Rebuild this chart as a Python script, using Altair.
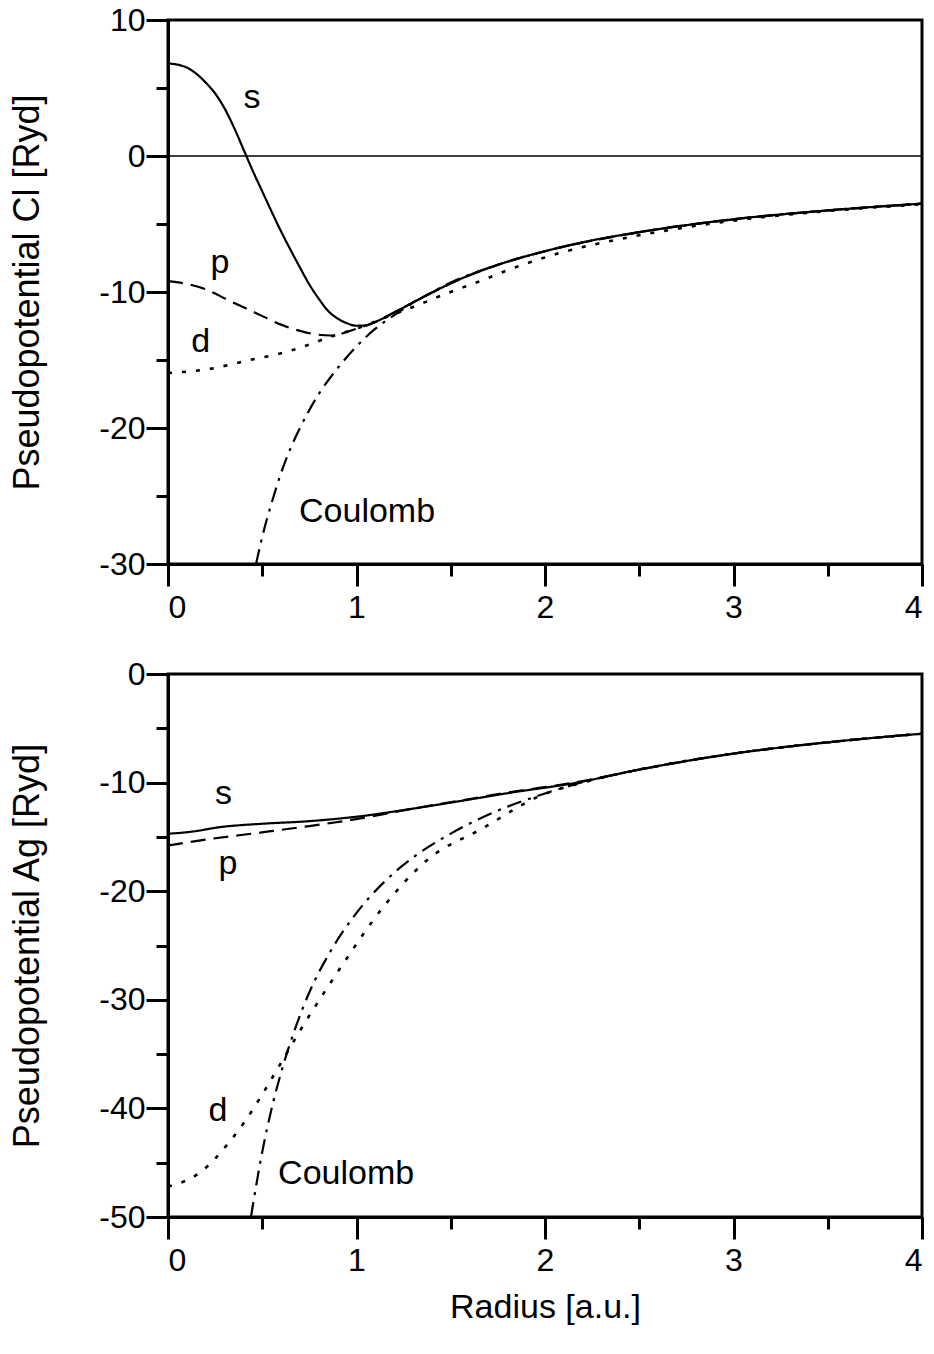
import altair as alt
import pandas as pd

# ---------------- data ----------------
# Cl panel
cl_s_r = [0.0, 0.05, 0.1, 0.15, 0.2, 0.25, 0.3, 0.35, 0.4, 0.45, 0.5, 0.55, 0.6, 0.65, 0.7, 0.75, 0.8, 0.85, 0.9, 0.95, 1.0, 1.05, 1.1, 1.2, 1.35, 1.55, 1.75, 2.0, 2.25, 2.5, 3.0, 3.5, 4.0]
cl_s_v = [6.8, 6.72, 6.5, 6.05, 5.4, 4.6, 3.5, 2.1, 0.5, -1.1, -2.6, -4.1, -5.55, -6.9, -8.2, -9.45, -10.5, -11.4, -11.95, -12.3, -12.48, -12.45, -12.2, -11.5, -10.4, -9.05, -8.0, -7.0, -6.2, -5.6, -4.65, -4.0, -3.5]

cl_p_r = [0.0, 0.1, 0.2, 0.32, 0.46, 0.6, 0.74, 0.86, 1.0, 1.1, 1.2, 1.35, 1.55, 1.75, 2.0, 2.5, 3.0, 3.5, 4.0]
cl_p_v = [-9.2, -9.4, -9.8, -10.6, -11.5, -12.4, -13.0, -13.2, -12.7, -12.2, -11.5, -10.4, -9.05, -8.0, -7.0, -5.6, -4.65, -4.0, -3.5]

cl_d_r = [0.0, 0.2, 0.435, 0.6, 0.7, 0.86, 1.02, 1.15, 1.3, 1.48, 1.655, 1.83, 2.1, 2.4, 2.7, 3.0, 3.5, 4.0]
cl_d_v = [-15.95, -15.7, -15.0, -14.5, -14.1, -13.3, -12.6, -11.9, -11.1, -10.1, -9.2, -8.25, -7.05, -6.1, -5.35, -4.75, -4.05, -3.55]

cl_c_r = [0.467, 0.5, 0.55, 0.6, 0.65, 0.7, 0.8, 0.9, 1.0, 1.1, 1.2, 1.35, 1.5, 1.75, 2.0, 2.5, 3.0, 3.5, 4.0]
cl_c_v = [-30.0, -28.0, -25.5, -23.3, -21.5, -20.0, -17.5, -15.6, -14.0, -12.7, -11.7, -10.4, -9.3, -8.0, -7.0, -5.6, -4.67, -4.0, -3.5]

# Ag panel
ag_s_r = [0.0, 0.05, 0.133, 0.276, 0.49, 0.75, 1.02, 1.28, 1.55, 1.81, 2.17, 2.5, 3.0, 3.5, 4.0]
ag_s_v = [-14.7, -14.65, -14.5, -14.1, -13.8, -13.55, -13.1, -12.45, -11.7, -10.95, -10.0, -8.8, -7.33, -6.29, -5.5]

ag_p_r = [0.0, 0.22, 0.49, 0.75, 1.02, 1.3, 1.55, 1.81, 2.17, 2.5, 3.0, 3.5, 4.0]
ag_p_v = [-15.8, -15.2, -14.6, -14.0, -13.3, -12.4, -11.65, -10.9, -9.95, -8.8, -7.33, -6.29, -5.5]

ag_d_r = [0.0, 0.17, 0.33, 0.40, 0.504, 0.61, 0.716, 0.822, 0.94, 1.14, 1.37, 1.67, 1.99, 2.2, 2.5, 3.0, 3.5, 4.0]
ag_d_v = [-47.2, -45.9, -43.0, -41.4, -38.6, -35.5, -32.4, -29.5, -26.4, -21.5, -17.2, -14.2, -11.1, -10.0, -8.8, -7.33, -6.29, -5.5]

ag_c_r = [0.44, 0.5, 0.557, 0.6, 0.684, 0.75, 0.86, 1.0, 1.15, 1.3, 1.5, 1.72, 2.0, 2.13, 2.5, 3.0, 3.5, 4.0]
ag_c_v = [-50.0, -44.0, -39.5, -36.7, -32.2, -29.3, -25.6, -22.0, -19.1, -16.9, -14.7, -12.8, -11.0, -10.3, -8.8, -7.33, -6.29, -5.5]

# curve labels
cl_label_text = ["s", "p", "d"]
cl_label_r = [0.446, 0.276, 0.173]
cl_label_v = [3.5, -8.6, -14.4]
cl_coul_r = [0.695]
cl_coul_v = [-26.9]

ag_label_text = ["s", "p", "d"]
ag_label_r = [0.294, 0.318, 0.265]
ag_label_v = [-12.0, -18.4, -41.2]
ag_coul_r = [0.584]
ag_coul_v = [-47.0]

# axes
x_ticks = [0, 0.5, 1, 1.5, 2, 2.5, 3, 3.5, 4]
cl_y_ticks = [-30, -25, -20, -15, -10, -5, 0, 5, 10]
ag_y_ticks = [-50, -45, -40, -35, -30, -25, -20, -15, -10, -5, 0]

FONT = "Liberation Sans"
W, H1, H2 = 754, 544, 543

DASH = {"s": [1, 0], "p": [15, 8], "d": [4, 10], "Coulomb": [15, 7, 3, 7]}
WIDTH = {"s": 2.2, "p": 2.2, "d": 2.6, "Coulomb": 2.2}


def df(r, v):
    return pd.DataFrame({"r": r, "v": v})


def make_axis_x(title):
    return alt.X(
        "r:Q",
        scale=alt.Scale(domain=[0, 4], nice=False, zero=False),
        title=title,
        axis=alt.Axis(
            values=x_ticks,
            labelExpr="datum.value % 1 === 0 ? '' + datum.value : ''",
            tickSize={"condition": {"test": "datum.value % 1 === 0", "value": 22}, "value": 12},
            grid=False,
        ),
    )


def make_axis_y(title, dom, ticks):
    return alt.Y(
        "v:Q",
        scale=alt.Scale(domain=dom, nice=False, zero=False),
        title=title,
        axis=alt.Axis(
            values=ticks,
            labelExpr="datum.value % 10 === 0 ? '' + datum.value : ''",
            tickSize={"condition": {"test": "datum.value % 10 === 0", "value": 22}, "value": 12},
            grid=False,
        ),
    )


def panel(curves, labels, coul, ytitle, xtitle, dom, yticks, H, zero=False):
    layers = []
    first = True
    for name, (r, v) in curves:
        xe = make_axis_x(xtitle) if first else alt.X("r:Q")
        ye = make_axis_y(ytitle, dom, yticks) if first else alt.Y("v:Q")
        first = False
        layers.append(
            alt.Chart(df(r, v)).mark_line(
                color="black", strokeWidth=WIDTH[name], interpolate="monotone",
                strokeDash=DASH[name], clip=True,
            ).encode(x=xe, y=ye, order="r:Q")
        )
    if zero:
        layers.append(
            alt.Chart(pd.DataFrame({"r0": [0], "r1": [4], "v": [0]})).mark_rule(
                color="black", strokeWidth=1.3
            ).encode(x="r0:Q", x2="r1:Q", y="v:Q")
        )
    lt, lr, lv = labels
    layers.append(
        alt.Chart(pd.DataFrame({"t": lt, "r": lr, "v": lv})).mark_text(
            font=FONT, fontSize=34, baseline="alphabetic", align="center", color="black"
        ).encode(x="r:Q", y="v:Q", text="t:N")
    )
    cr, cv = coul
    layers.append(
        alt.Chart(pd.DataFrame({"t": ["Coulomb"], "r": cr, "v": cv})).mark_text(
            font=FONT, fontSize=34, baseline="alphabetic", align="left", color="black"
        ).encode(x="r:Q", y="v:Q", text="t:N")
    )
    return alt.layer(*layers).properties(width=W, height=H)


top = panel(
    [("s", (cl_s_r, cl_s_v)), ("p", (cl_p_r, cl_p_v)), ("d", (cl_d_r, cl_d_v)), ("Coulomb", (cl_c_r, cl_c_v))],
    (cl_label_text, cl_label_r, cl_label_v), (cl_coul_r, cl_coul_v),
    "Pseudopotential Cl [Ryd]", None, [-30, 10], cl_y_ticks, H1, zero=True,
)
bottom = panel(
    [("s", (ag_s_r, ag_s_v)), ("p", (ag_p_r, ag_p_v)), ("d", (ag_d_r, ag_d_v)), ("Coulomb", (ag_c_r, ag_c_v))],
    (ag_label_text, ag_label_r, ag_label_v), (ag_coul_r, ag_coul_v),
    "Pseudopotential Ag [Ryd]", "Radius [a.u.]", [-50, 0], ag_y_ticks, H2,
)

chart = alt.vconcat(top, bottom, spacing=110, bounds="flush").properties(
    padding={"left": 8, "top": 2, "right": 5, "bottom": 5},
    background="white",
).configure_view(
    stroke="black", strokeWidth=3
).configure_axis(
    domainColor="black", domainWidth=3, tickColor="black", tickWidth=3,
    labelFont=FONT, labelFontSize=32, labelColor="black", labelPadding=6,
    titleFont=FONT, titleFontSize=34, titleFontWeight="normal", titleColor="black",
).configure_axisY(
    labelPadding=1, titlePadding=52, titleFontSize=36,
).configure_axisX(
    titlePadding=14,
)

chart.save("out.html", embed_options={"renderer": "svg", "actions": False})
